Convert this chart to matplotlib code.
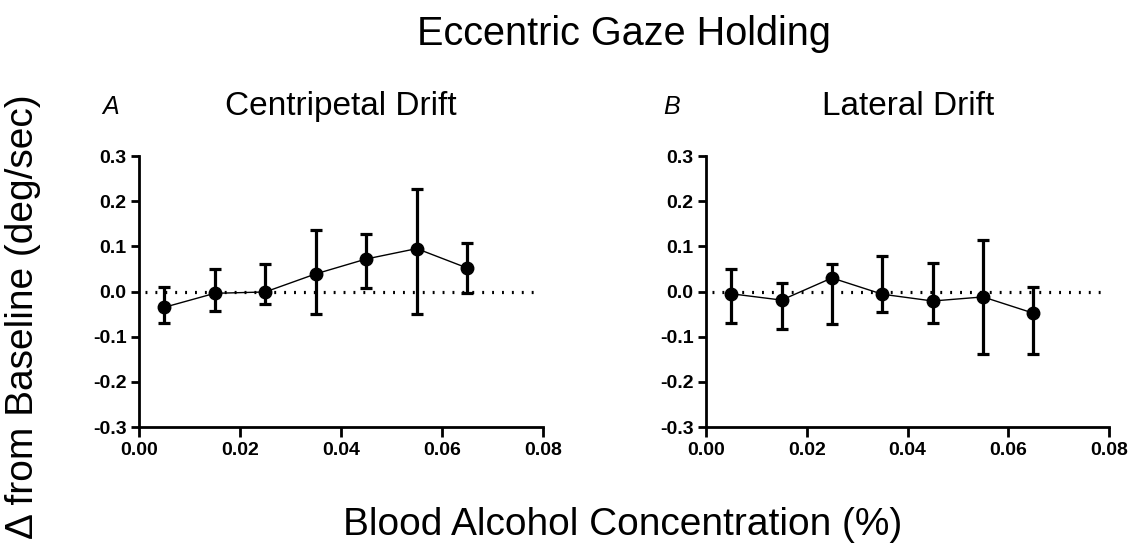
import matplotlib
matplotlib.use("Agg")
import matplotlib.pyplot as plt
import numpy as np

plt.rcParams['font.family'] = ['Liberation Sans', 'DejaVu Sans']
plt.rcParams['axes.unicode_minus'] = False

bac = [0.005, 0.015, 0.025, 0.035, 0.045, 0.055, 0.065]

# Centripetal drift: mean, upper and lower error bar ends
cp_mean = [-0.035, -0.004, -0.001, 0.039, 0.072, 0.095, 0.052]
cp_hi = [0.011, 0.049, 0.060, 0.137, 0.127, 0.226, 0.107]
cp_lo = [-0.069, -0.044, -0.027, -0.050, 0.007, -0.050, -0.003]

# Lateral drift
lat_mean = [-0.005, -0.019, 0.030, -0.006, -0.021, -0.012, -0.048]
lat_hi = [0.050, 0.019, 0.061, 0.079, 0.064, 0.113, 0.011]
lat_lo = [-0.069, -0.084, -0.072, -0.046, -0.069, -0.139, -0.139]

x_ticks = [0.0, 0.02, 0.04, 0.06, 0.08]
y_ticks = [-0.3, -0.2, -0.1, 0.0, 0.1, 0.2, 0.3]

fig = plt.figure(figsize=(11.3, 5.48), dpi=100)


def panel(rect, mean, hi, lo, letter, letter_x, title, title_x):
    ax = fig.add_axes(rect)
    mean = np.array(mean)
    yerr = [mean - np.array(lo), np.array(hi) - mean]
    ax.axhline(0, xmin=0.015, xmax=0.985, color='black', lw=2.3,
               linestyle=(0, (0.6, 2.5)), zorder=1)
    ax.errorbar(bac, mean, yerr=yerr, fmt='none', ecolor='black',
                elinewidth=2.3, capsize=4.5, capthick=2.3, zorder=2)
    ax.plot(bac, mean, color='black', lw=1.0, marker='o', markersize=9, zorder=3)
    ax.set_xlim(0, 0.08)
    ax.set_ylim(-0.3, 0.3)
    ax.set_xticks(x_ticks)
    ax.set_xticklabels([f'{v:.2f}' for v in x_ticks])
    ax.set_yticks(y_ticks)
    ax.set_yticklabels([f'{v:.1f}' if v != 0 else '0.0' for v in y_ticks])
    for lab in ax.get_xticklabels() + ax.get_yticklabels():
        lab.set_fontweight('bold')
        lab.set_fontsize(14)
    ax.tick_params(axis='x', direction='out', length=7, width=2, pad=4)
    ax.tick_params(axis='y', direction='out', length=6, width=2, pad=3)
    ax.spines['top'].set_visible(False)
    ax.spines['right'].set_visible(False)
    ax.spines['left'].set_linewidth(2)
    ax.spines['bottom'].set_linewidth(2)
    fig.text(title_x, 0.805, title, fontsize=24, ha='center', va='center')
    fig.text(letter_x, 0.805, letter, fontsize=18, style='italic',
             ha='center', va='center')
    return ax


panel([0.123, 0.2208, 0.3575, 0.4945], cp_mean, cp_hi, cp_lo,
      'A', 0.098, 'Centripetal Drift', 0.302)
panel([0.6248, 0.2208, 0.3566, 0.4945], lat_mean, lat_hi, lat_lo,
      'B', 0.594, 'Lateral Drift', 0.8035)

fig.text(0.552, 0.938, 'Eccentric Gaze Holding', fontsize=28.5, ha='center', va='center')
fig.text(0.551, 0.042, 'Blood Alcohol Concentration (%)', fontsize=28, ha='center', va='center')
fig.text(0.02, 0.423, '\u0394 from Baseline (deg/sec)', fontsize=28, rotation=90,
         ha='center', va='center')

fig.savefig('out.png', dpi=100)
